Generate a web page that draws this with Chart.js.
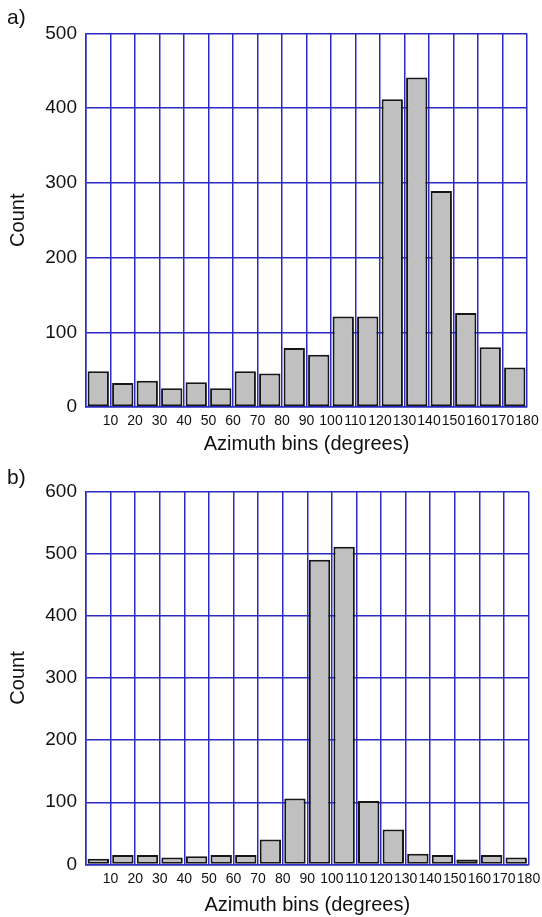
<!DOCTYPE html>
<html>
<head>
<meta charset="utf-8">
<script src="https://cdn.jsdelivr.net/npm/chart.js@4"></script>
<style>
    body { margin: 0; background: #fff; width: 542px; height: 917px; position: relative; overflow: hidden; }
    .panel { position: absolute; left: 0; width: 542px; }
    .panel-label { position: absolute; left: 7px; font: 21px "Liberation Sans", Arial, sans-serif; color: #111; line-height: 1; }
</style>
</head>
<body>
<div class="panel" style="top:0; height:458px;">
    <canvas id="graficoA" width="542" height="458"></canvas>
    <div class="panel-label" style="top:6px;">a)</div>
</div>
<div class="panel" style="top:458px; height:459px;">
    <canvas id="graficoB" width="542" height="459"></canvas>
    <div class="panel-label" style="top:8px;">b)</div>
</div>
<script>
// centros das classes de azimute (0-10, 10-20, ... 170-180)
const binCenters = [5, 15, 25, 35, 45, 55, 65, 75, 85, 95, 105, 115, 125, 135, 145, 155, 165, 175];
const countsA = [48, 32, 35, 25, 33, 25, 48, 45, 79, 70, 121, 121, 412, 441, 289, 126, 80, 53];
const countsB = [9, 15, 15, 11, 13, 15, 15, 40, 106, 490, 511, 102, 56, 17, 15, 8, 15, 11];
const xTicks = [10, 20, 30, 40, 50, 60, 70, 80, 90, 100, 110, 120, 130, 140, 150, 160, 170, 180];

const gridBlue = '#2b2bc4';
const fonte = '"Liberation Sans", Arial, sans-serif';

function criarGrafico(id, counts, yMax, opts) {
    const ctx = document.getElementById(id).getContext('2d');
    return new Chart(ctx, {
        type: 'bar',
        data: {
            datasets: [{
                data: binCenters.map((x, i) => ({ x: x, y: counts[i] })),
                backgroundColor: '#c0c0c0',
                borderColor: '#161616',
                borderWidth: 2,
                borderSkipped: false,
                categoryPercentage: 1,
                barPercentage: 0.87
            }]
        },
        options: {
            responsive: false,
            animation: false,
            layout: { padding: { top: 33.5, right: opts.right, left: 0, bottom: 0 } },
            plugins: { legend: { display: false }, tooltip: { enabled: false } },
            scales: {
                x: {
                    type: 'linear',
                    min: 0,
                    max: 180,
                    offset: false,
                    afterBuildTicks: function (scale) {
                        scale.ticks = [0].concat(xTicks).map(v => ({ value: v }));
                    },
                    afterFit: function (scale) {
                        scale.height = opts.xHeight;
                        // o "180" pode passar da margem, sem empurrar a área do gráfico
                        scale.paddingLeft = 0;
                        scale.paddingRight = 0;
                    },
                    grid: { color: gridBlue, lineWidth: 1.5, drawTicks: false, offset: false },
                    border: { color: gridBlue, width: 1.5 },
                    ticks: {
                        padding: 6,
                        maxRotation: 0,
                        autoSkip: false,
                        color: '#111',
                        font: { family: fonte, size: 14 },
                        callback: v => (v === 0 ? '' : String(v))
                    },
                    title: {
                        display: true,
                        text: 'Azimuth bins (degrees)',
                        color: '#111',
                        font: { family: fonte, size: 20 },
                        padding: { top: 0, bottom: opts.titleBottom }
                    }
                },
                y: {
                    min: 0,
                    max: yMax,
                    afterFit: function (scale) { scale.width = 86; },
                    grid: { color: gridBlue, lineWidth: 1.5, drawTicks: false },
                    border: { color: gridBlue, width: 1.5 },
                    ticks: {
                        stepSize: 100,
                        padding: 9,
                        color: '#111',
                        font: { family: fonte, size: 19 }
                    },
                    title: {
                        display: true,
                        text: 'Count',
                        color: '#111',
                        font: { family: fonte, size: 20 },
                        padding: { top: 6, bottom: 0 }
                    }
                }
            }
        }
    });
}

criarGrafico('graficoA', countsA, 500, { right: 15, xHeight: 51, titleBottom: 2 });
criarGrafico('graficoB', countsB, 600, { right: 13.5, xHeight: 52.6, titleBottom: 0 });
</script>
</body>
</html>
